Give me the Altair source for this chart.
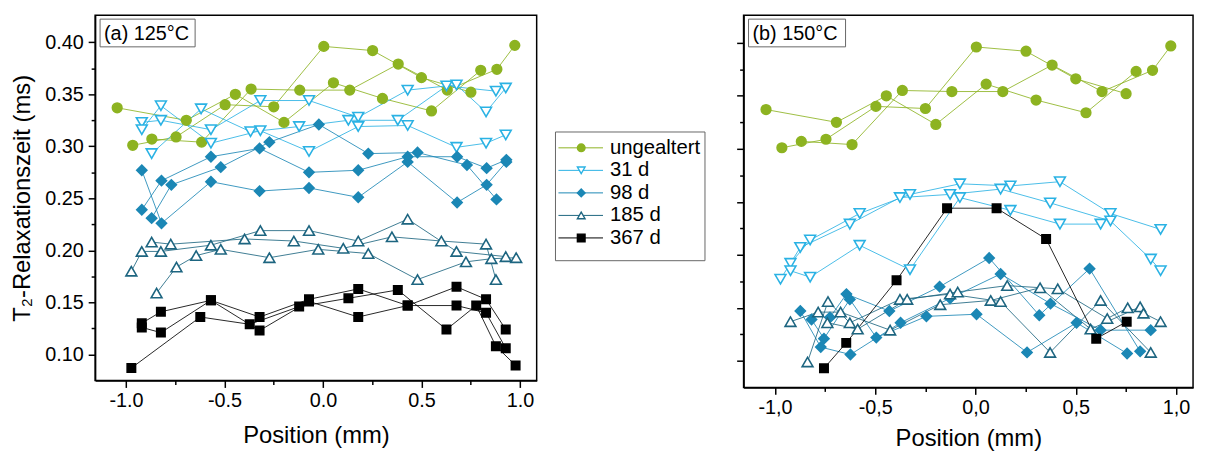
import altair as alt
import pandas as pd

FONT = "Liberation Sans"

GROUPS = ["ungealtert", "31 d", "98 d", "185 d", "367 d"]
LEGEND_LABELS = ["ungealtert", "\u200731 d", "\u200798 d", "185 d", "367 d"]
STROKES = ["#8db321", "#2ab2e4", "#1b87b5", "#1d6580", "#000000"]
FILLS = ["#8db321", "#ffffff", "#1b87b5", "#ffffff", "#000000"]
SHAPES = ["circle", "triangle-down", "diamond", "triangle-up", "square"]
SIZES = [95, 120, 105, 120, 72]

XTICKS = [-1.0, -0.75, -0.5, -0.25, 0.0, 0.25, 0.5, 0.75, 1.0]
YTICKS = [0.1, 0.125, 0.15, 0.175, 0.2, 0.225, 0.25, 0.275, 0.3, 0.325, 0.35, 0.375, 0.4]

# ---- ungealtert (identical reference sample in both panels) ----
U1_X = [-0.966, -0.746, -0.497, -0.250, 0.004, 0.252, 0.500, 0.751]
U1_Y = [0.301, 0.309, 0.340, 0.338, 0.396, 0.392, 0.366, 0.352]
U2_X = [-1.045, -0.694, -0.445, -0.198, 0.053, 0.302, 0.551, 0.801]
U2_Y = [0.337, 0.325, 0.350, 0.323, 0.361, 0.346, 0.334, 0.373]
U3_X = [-0.869, -0.616, -0.365, -0.118, 0.136, 0.382, 0.631, 0.883, 0.974]
U3_Y = [0.307, 0.304, 0.355, 0.354, 0.354, 0.379, 0.354, 0.374, 0.397]

# ---- panel (a) 125 °C ----
A31_1_X = [-0.920, -0.823, -0.569, -0.318, -0.071, 0.179, 0.430, 0.678, 0.828, 0.928]
A31_1_Y = [0.323, 0.325, 0.316, 0.344, 0.344, 0.328, 0.354, 0.359, 0.333, 0.356]
A31_2_X = [-0.920, -0.823, -0.569, -0.318, -0.071, 0.179, 0.430, 0.678, 0.828, 0.928]
A31_2_Y = [0.316, 0.339, 0.303, 0.315, 0.295, 0.319, 0.320, 0.299, 0.303, 0.311]
A31_3_X = [-0.870, -0.619, -0.368, -0.121, 0.129, 0.380, 0.627, 0.878]
A31_3_Y = [0.293, 0.336, 0.314, 0.319, 0.325, 0.325, 0.358, 0.353]

A98_1_X = [-0.920, -0.820, -0.569, -0.322, -0.071, 0.179, 0.430, 0.681, 0.831, 0.931]
A98_1_Y = [0.277, 0.226, 0.266, 0.257, 0.260, 0.251, 0.285, 0.246, 0.263, 0.285]
A98_2_X = [-0.920, -0.820, -0.569, -0.322, -0.071, 0.179, 0.430, 0.681, 0.831, 0.931]
A98_2_Y = [0.239, 0.267, 0.290, 0.298, 0.275, 0.277, 0.290, 0.290, 0.279, 0.287]
A98_3_X = [-0.870, -0.770, -0.519, -0.272, -0.021, 0.230, 0.480, 0.731, 0.881]
A98_3_Y = [0.231, 0.263, 0.280, 0.304, 0.321, 0.293, 0.294, 0.282, 0.249]

A185_1_X = [-0.870, -0.773, -0.398, -0.148, 0.103, 0.350, 0.601, 0.828, 0.878]
A185_1_Y = [0.208, 0.206, 0.211, 0.209, 0.202, 0.213, 0.209, 0.206, 0.172]
A185_2_X = [-0.973, -0.920, -0.823, -0.569, -0.318, -0.071, 0.179, 0.430, 0.678, 0.928]
A185_2_Y = [0.180, 0.199, 0.199, 0.205, 0.219, 0.219, 0.209, 0.230, 0.199, 0.194]
A185_3_X = [-0.845, -0.744, -0.644, -0.519, -0.272, -0.024, 0.230, 0.480, 0.726, 0.855, 0.981]
A185_3_Y = [0.159, 0.184, 0.195, 0.201, 0.193, 0.201, 0.197, 0.172, 0.189, 0.192, 0.193]

A367_1_X = [-0.973, -0.623, -0.372, -0.121, 0.129, 0.380, 0.627, 0.778, 0.878, 0.978]
A367_1_Y = [0.087, 0.136, 0.129, 0.146, 0.154, 0.162, 0.124, 0.147, 0.108, 0.0895]
A367_2_X = [-0.920, -0.823, -0.569, -0.322, -0.071, 0.179, 0.430, 0.678, 0.828, 0.928]
A367_2_Y = [0.130, 0.141, 0.152, 0.136, 0.153, 0.163, 0.147, 0.165, 0.153, 0.124]
A367_3_X = [-0.920, -0.823, -0.569, -0.322, -0.071, 0.179, 0.430, 0.678, 0.828, 0.928]
A367_3_Y = [0.126, 0.121, 0.152, 0.123, 0.151, 0.136, 0.147, 0.147, 0.140, 0.106]

# ---- panel (b) 150 °C ----
B31_1_X = [-0.923, -0.825, -0.578, -0.327, -0.078, 0.174, 0.421, 0.673, 0.923]
B31_1_Y = [0.192, 0.214, 0.239, 0.257, 0.267, 0.265, 0.269, 0.239, 0.224]
B31_2_X = [-0.973, -0.874, -0.627, -0.377, -0.127, 0.125, 0.372, 0.673, 0.874, 0.923]
B31_2_Y = [0.177, 0.207, 0.229, 0.254, 0.257, 0.262, 0.249, 0.232, 0.196, 0.185]
B31_3_X = [-0.923, -0.825, -0.578, -0.327, -0.078, 0.174, 0.421, 0.624]
B31_3_Y = [0.185, 0.179, 0.209, 0.186, 0.254, 0.242, 0.229, 0.229]

B98_1_X = [-0.874, -0.772, -0.624, -0.374, -0.127, 0.125, 0.374, 0.624, 0.874]
B98_1_Y = [0.147, 0.113, 0.106, 0.136, 0.159, 0.182, 0.154, 0.129, 0.129]
B98_2_X = [-0.818, -0.756, -0.627, -0.495, -0.245, 0.005, 0.257, 0.504, 0.756]
B98_2_Y = [0.139, 0.121, 0.158, 0.122, 0.142, 0.144, 0.108, 0.136, 0.107]
B98_3_X = [-0.726, -0.644, -0.430, -0.179, 0.068, 0.318, 0.569, 0.821]
B98_3_Y = [0.141, 0.163, 0.147, 0.170, 0.197, 0.143, 0.187, 0.109]

B185_1_X = [-0.923, -0.785, -0.673, -0.426, -0.176, 0.076, 0.322, 0.574, 0.821]
B185_1_Y = [0.137, 0.146, 0.146, 0.129, 0.153, 0.157, 0.169, 0.130, 0.151]
B185_2_X = [-0.838, -0.736, -0.627, -0.377, -0.127, 0.125, 0.372, 0.624, 0.874]
B185_2_Y = [0.099, 0.156, 0.136, 0.158, 0.163, 0.156, 0.108, 0.157, 0.108]
B185_3_X = [-0.739, -0.588, -0.341, -0.089, 0.158, 0.410, 0.657, 0.759, 0.838, 0.923]
B185_3_Y = [0.136, 0.130, 0.158, 0.165, 0.171, 0.168, 0.140, 0.150, 0.145, 0.137]

B367_X = [-0.756, -0.645, -0.394, -0.142, 0.105, 0.352, 0.602, 0.754]
B367_Y = [0.093, 0.117, 0.176, 0.244, 0.244, 0.215, 0.121, 0.137]

SERIES = [
    ("a", "ungealtert", U1_X, U1_Y), ("a", "ungealtert", U2_X, U2_Y), ("a", "ungealtert", U3_X, U3_Y),
    ("a", "31 d", A31_1_X, A31_1_Y), ("a", "31 d", A31_2_X, A31_2_Y), ("a", "31 d", A31_3_X, A31_3_Y),
    ("a", "98 d", A98_1_X, A98_1_Y), ("a", "98 d", A98_2_X, A98_2_Y), ("a", "98 d", A98_3_X, A98_3_Y),
    ("a", "185 d", A185_1_X, A185_1_Y), ("a", "185 d", A185_2_X, A185_2_Y), ("a", "185 d", A185_3_X, A185_3_Y),
    ("a", "367 d", A367_1_X, A367_1_Y), ("a", "367 d", A367_2_X, A367_2_Y), ("a", "367 d", A367_3_X, A367_3_Y),
    ("b", "ungealtert", U1_X, U1_Y), ("b", "ungealtert", U2_X, U2_Y), ("b", "ungealtert", U3_X, U3_Y),
    ("b", "31 d", B31_1_X, B31_1_Y), ("b", "31 d", B31_2_X, B31_2_Y), ("b", "31 d", B31_3_X, B31_3_Y),
    ("b", "98 d", B98_1_X, B98_1_Y), ("b", "98 d", B98_2_X, B98_2_Y), ("b", "98 d", B98_3_X, B98_3_Y),
    ("b", "185 d", B185_1_X, B185_1_Y), ("b", "185 d", B185_2_X, B185_2_Y), ("b", "185 d", B185_3_X, B185_3_Y),
    ("b", "367 d", B367_X, B367_Y),
]

rows = []
for k, (panel, group, xs, ys) in enumerate(SERIES):
    for i, (xv, yv) in enumerate(zip(xs, ys)):
        rows.append({"panel": panel, "group": group, "rep": f"{panel}{k}", "idx": i, "x": xv, "y": yv})
df = pd.DataFrame(rows)

stroke_scale = alt.Scale(domain=GROUPS, range=STROKES)
fill_scale = alt.Scale(domain=GROUPS, range=FILLS)
shape_scale = alt.Scale(domain=GROUPS, range=SHAPES)

X_MAJOR = "abs(datum.value*2-round(datum.value*2))<0.001"
Y_MAJOR = "abs(datum.value*20-round(datum.value*20))<0.001"


def make_panel(name, w, h, label, comma, show_ylabels, x_title_pad):
    sub = df[df.panel == name]
    if comma:
        xlab = f"{X_MAJOR} ? replace((datum.value<0?'-':'')+format(abs(datum.value),'.1f'),'.',',') : ''"
    else:
        xlab = f"{X_MAJOR} ? (datum.value<0?'-':'')+format(abs(datum.value),'.1f') : ''"
    x_axis = alt.Axis(values=XTICKS, title="Position (mm)", labelExpr=xlab, labelFlush=False,
                      labelOverlap=False, labelPadding=3, titlePadding=x_title_pad,
                      tickSize={"condition": {"test": X_MAJOR, "value": 7}, "value": 4})
    if show_ylabels:
        y_axis = alt.Axis(values=YTICKS, title="T\u2082-Relaxationszeit (ms)",
                          labelExpr=f"{Y_MAJOR} ? format(datum.value,'.2f') : ''",
                          labelOverlap=False, labelPadding=5, titlePadding=10, titleFontSize=24,
                          tickSize={"condition": {"test": Y_MAJOR, "value": 7}, "value": 4})
    else:
        y_axis = alt.Axis(values=YTICKS, title=None, labels=False,
                          tickSize={"condition": {"test": Y_MAJOR, "value": 7}, "value": 4})
    xe = alt.X("x:Q", scale=alt.Scale(domain=[-1.157, 1.085], nice=False, zero=False), axis=x_axis)
    ye = alt.Y("y:Q", scale=alt.Scale(domain=[0.075, 0.426], nice=False, zero=False), axis=y_axis)
    base = alt.Chart(sub)
    layers = [base.mark_line(strokeWidth=1, opacity=0.85).encode(
        x=xe, y=ye,
        stroke=alt.Stroke("group:N", scale=stroke_scale, legend=None),
        detail="rep:N", order="idx:Q")]
    for g, st, fl, sh, sz in zip(GROUPS, STROKES, FILLS, SHAPES, SIZES):
        layers.append(base.transform_filter(alt.datum.group == g).mark_point(
            opacity=1, strokeWidth=1.6, shape=sh, size=sz, stroke=st, fill=fl, filled=False
        ).encode(x=xe, y=ye))
    lab_df = pd.DataFrame({"t": [label]})
    layers.append(alt.Chart(lab_df).mark_rect(fill="white", stroke="#666666", strokeWidth=1).encode(
        x=alt.value(5), x2=alt.value(101 if name == "a" else 103), y=alt.value(4), y2=alt.value(32)))
    layers.append(alt.Chart(lab_df).mark_text(align="left", baseline="middle", fontSize=20, font=FONT,
                                              color="black").encode(
        x=alt.value(9), y=alt.value(19), text="t:N"))
    return alt.layer(*layers).properties(width=w, height=h)


panel_a = make_panel("a", 446, 369, "(a) 125°C", False, True, 14)
panel_b = make_panel("b", 454, 376, "(b) 150°C", True, False, 10)

# ---- legend panel ----
leg_df = pd.DataFrame({"group": GROUPS, "label": LEGEND_LABELS})
ly = alt.Y("group:N", scale=alt.Scale(type="point", domain=GROUPS, range=[134, 225], padding=0), axis=None)
leg_box = alt.Chart(pd.DataFrame({"t": [0]})).mark_rect(fill="white", stroke="#666666", strokeWidth=1).encode(
    x=alt.value(0), x2=alt.value(151), y=alt.value(118), y2=alt.value(248))
leg_rule = alt.Chart(leg_df).mark_rule(strokeWidth=1).encode(
    x=alt.value(3), x2=alt.value(48), y=ly,
    stroke=alt.Stroke("group:N", scale=stroke_scale, legend=None))
leg_pt = alt.Chart(leg_df).mark_point(opacity=1, strokeWidth=1.4, size=60).encode(
    x=alt.value(26), y=ly,
    stroke=alt.Stroke("group:N", scale=stroke_scale, legend=None),
    fill=alt.Fill("group:N", scale=fill_scale, legend=None),
    shape=alt.Shape("group:N", scale=shape_scale, legend=None))
leg_txt = alt.Chart(leg_df).mark_text(align="left", baseline="middle", fontSize=20.5, font=FONT,
                                      color="black").encode(
    x=alt.value(55), y=ly, text="label:N")
legend = alt.layer(leg_box, leg_rule, leg_pt, leg_txt).properties(
    width=151, height=369, view=alt.ViewBackground(stroke="transparent"))

chart = alt.hconcat(alt.hconcat(panel_a, legend, spacing=16), panel_b, spacing=28).configure_view(
    stroke="black", strokeWidth=1.5
).configure_axis(
    grid=False, domainColor="black", domainWidth=1.5, tickColor="black", tickWidth=1.5,
    labelFont=FONT, labelFontSize=20, labelColor="black",
    titleFont=FONT, titleFontSize=24, titleFontWeight="normal", titleColor="black"
).properties(padding={"left": 2, "top": 4, "right": 4, "bottom": 0}, background="white")

chart.save("out.html", embed_options={"renderer": "svg", "actions": False})
